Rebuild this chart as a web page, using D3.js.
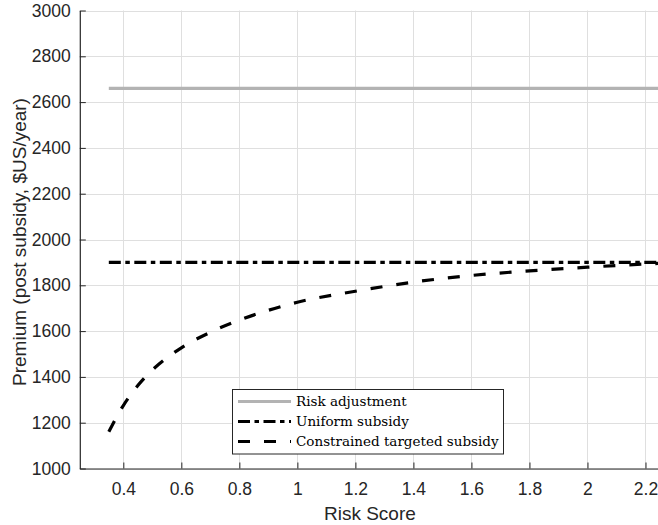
<!doctype html>
<html>
<head>
<meta charset="UTF-8">
<title>Premium vs risk score</title>
<style>
  body { margin: 0; background: #fff; }
  svg { display: block; }
  .tick text { font-family: "Liberation Sans", Arial, sans-serif; font-size: 17.5px; fill: #262626; }
</style>
</head>
<body>
<div id="chart"></div>
<script src="https://cdn.jsdelivr.net/npm/d3@7/dist/d3.min.js"></script>
<script>
// data
var riskScore = [0.35, 0.4, 0.45, 0.5, 0.6, 0.7, 0.8, 0.9, 1.0, 1.2, 1.4, 1.6, 1.8, 2.0, 2.2, 2.25];
var targetedSubsidy = [1161, 1275, 1362, 1430, 1527, 1595, 1648, 1691, 1726, 1774, 1814, 1843, 1863, 1879, 1893, 1896];
var riskAdjustment = 2660;
var uniformSubsidy = 1900;
var xTicks = [0.4, 0.6, 0.8, 1, 1.2, 1.4, 1.6, 1.8, 2, 2.2];
var yTicks = [1000, 1200, 1400, 1600, 1800, 2000, 2200, 2400, 2600, 2800, 3000];
var seriesNames = ["Risk adjustment", "Uniform subsidy", "Constrained targeted subsidy"];

var width = 658, height = 525;
var plotLeft = 79.8, plotRight = 660, plotTop = 10.5, plotBottom = 468.5;

var svg = d3.select("#chart").append("svg")
  .attr("width", width)
  .attr("height", height);

var x = d3.scaleLinear().domain([0.25, 2.25]).range([plotLeft, plotRight]);
var y = d3.scaleLinear().domain([1000, 3000]).range([plotBottom, plotTop]);

// grid
var grid = svg.append("g").attr("stroke", "#dfdfdf").attr("stroke-width", 1);
grid.selectAll(".gx").data(xTicks).enter().append("line")
  .attr("x1", function(d) { return Math.round(x(d)) + 0.5; })
  .attr("x2", function(d) { return Math.round(x(d)) + 0.5; })
  .attr("y1", plotTop).attr("y2", plotBottom);
grid.selectAll(".gy").data(yTicks).enter().append("line")
  .attr("x1", plotLeft).attr("x2", plotRight)
  .attr("y1", function(d) { return Math.round(y(d)) + 0.5; })
  .attr("y2", function(d) { return Math.round(y(d)) + 0.5; });

// axes, ticks pointing inwards
var xAxis = svg.append("g")
  .attr("transform", "translate(0," + plotBottom + ")")
  .call(d3.axisBottom(x).tickValues(xTicks).tickSizeInner(-6).tickSizeOuter(0).tickPadding(14)
    .tickFormat(d3.format("")));
var yAxis = svg.append("g")
  .attr("transform", "translate(" + plotLeft + ",0)")
  .call(d3.axisLeft(y).tickValues(yTicks).tickSizeInner(-6).tickSizeOuter(0).tickPadding(9)
    .tickFormat(d3.format("d")));
[xAxis, yAxis].forEach(function(a) {
  a.select(".domain").attr("stroke", "#262626").attr("stroke-width", 1.2);
  a.selectAll(".tick line").attr("stroke", "#262626");
});

svg.append("text")
  .attr("x", (plotLeft + plotRight) / 2)
  .attr("y", 520)
  .attr("text-anchor", "middle")
  .attr("font-family", "Liberation Sans, Arial, sans-serif")
  .attr("font-size", 19)
  .attr("fill", "#262626")
  .text("Risk Score");

svg.append("text")
  .attr("transform", "translate(25.5,242) rotate(-90)")
  .attr("text-anchor", "middle")
  .attr("font-family", "Liberation Sans, Arial, sans-serif")
  .attr("font-size", 19)
  .attr("fill", "#262626")
  .text("Premium (post subsidy, $US/year)");

// lines
var styles = [
  { color: "#b3b3b3", dash: null },
  { color: "#000", dash: "12,4.5,4.5,4.5" },
  { color: "#000", dash: "12,14" }
];
var xStart = riskScore[0], xEnd = riskScore[riskScore.length - 1];

var flat = function(v) { return [[xStart, v], [xEnd, v]]; };
var line = d3.line()
  .x(function(d) { return x(d[0]); })
  .y(function(d) { return y(d[1]); });
var curve = d3.line()
  .x(function(d) { return x(d[0]); })
  .y(function(d) { return y(d[1]); })
  .curve(d3.curveMonotoneX);

var seriesData = [flat(riskAdjustment), flat(uniformSubsidy), riskScore.map(function(r, i) { return [r, targetedSubsidy[i]]; })];

seriesData.forEach(function(pts, i) {
  svg.append("path")
    .attr("d", i === 2 ? curve(pts) : line(pts))
    .attr("fill", "none")
    .attr("stroke", styles[i].color)
    .attr("stroke-width", 3.2)
    .attr("stroke-dasharray", styles[i].dash);
});

// legend
var legend = svg.append("g");
legend.append("rect")
  .attr("x", 232.5).attr("y", 389.5)
  .attr("width", 271).attr("height", 64.5)
  .attr("fill", "#fff")
  .attr("stroke", "#262626")
  .attr("stroke-width", 1);
seriesNames.forEach(function(name, i) {
  var yy = 401.5 + i * 20;
  legend.append("line")
    .attr("x1", 238).attr("x2", 291)
    .attr("y1", yy).attr("y2", yy)
    .attr("stroke", styles[i].color)
    .attr("stroke-width", 3.2)
    .attr("stroke-dasharray", styles[i].dash);
  legend.append("text")
    .attr("x", 296).attr("y", yy + 4)
    .attr("font-family", "DejaVu Serif, serif")
    .attr("font-size", 13.5)
    .attr("fill", "#000")
    .text(name);
});
</script>
</body>
</html>
